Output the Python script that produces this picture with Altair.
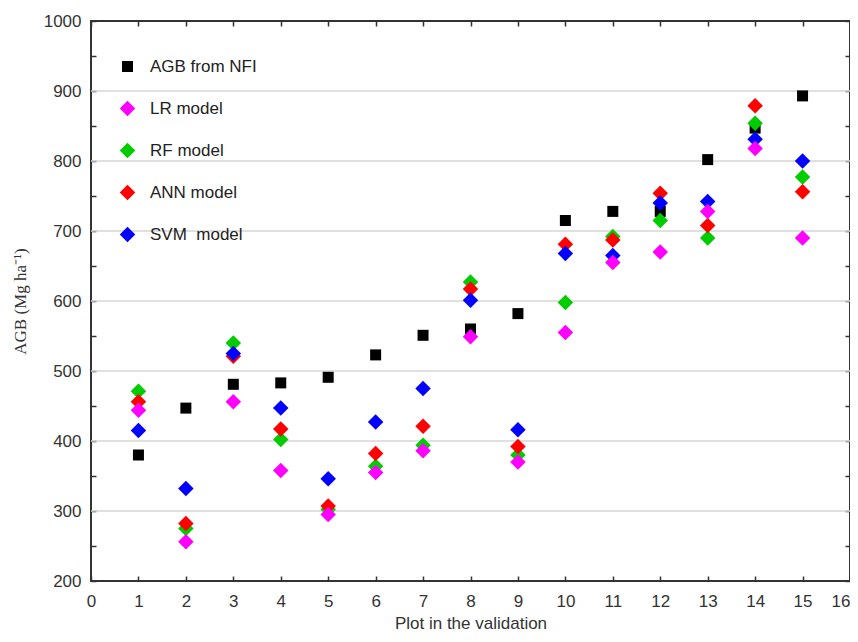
import altair as alt
import pandas as pd

plots = list(range(1, 16))
agb_nfi = [380, 447, 481, 483, 491, 523, 551, 560, 582, 715, 728, 728, 802, 847, 893]
lr_model = [444, 256, 456, 358, 295, 355, 386, 549, 370, 555, 655, 670, 728, 818, 690]
rf_model = [471, 275, 540, 402, 302, 364, 394, 627, 380, 598, 692, 715, 690, 854, 777]
ann_model = [456, 282, 521, 417, 307, 382, 421, 617, 392, 681, 687, 754, 708, 879, 756]
svm_model = [415, 332, 525, 447, 346, 427, 475, 601, 416, 668, 665, 740, 742, 831, 800]

legend_order = ["AGB from NFI", "LR model", "RF model", "ANN model", "SVM\u00a0 model"]
series_colors = ["#000000", "#ff00ff", "#00cc00", "#ff0000", "#0000ff"]
series_shapes = ["square", "diamond", "diamond", "diamond", "diamond"]
series_sizes = [121, 240, 240, 240, 240]

grid_y = [300, 400, 500, 600, 700, 800, 900]
y_ticks = list(range(200, 1001, 50))
x_ticks = list(range(0, 17))

series_values = {
    "AGB from NFI": agb_nfi,
    "RF model": rf_model,
    "ANN model": ann_model,
    "SVM\u00a0 model": svm_model,
    "LR model": lr_model,
}
rows = []
k = 0
for name, vals in series_values.items():
    for p, v in zip(plots, vals):
        rows.append({"plot": p, "agb": v, "series": name, "ord": k})
        k += 1
df = pd.DataFrame(rows)
grid_df = pd.DataFrame({"g": grid_y})

FONT = "Liberation Sans"
xscale = alt.Scale(domain=[0, 16], nice=False, zero=False)
yscale = alt.Scale(domain=[200, 1000], nice=False, zero=False)

legend = alt.Legend(
    orient="none", legendX=28, legendY=37, title=None,
    labelFontSize=17, labelFont=FONT, labelColor="#222",
    rowPadding=24, padding=0, labelOffset=14, symbolStrokeWidth=0,
)

grid = alt.Chart(grid_df).mark_rule(color="#d6d6d6", strokeWidth=1.5).encode(
    y=alt.Y("g:Q", scale=yscale, axis=alt.Axis(
        orient="left", values=y_ticks, format="d",
        labelExpr="datum.value % 100 == 0 ? datum.label : ''",
        tickSize=5, offset=-5, domain=False, grid=False,
        labelFontSize=17, labelPadding=10,
        title="AGB (Mg ha\u207b\u00b9)", titleFont="Liberation Serif",
        titleFontSize=17, titleFontWeight="normal", titlePadding=14,
    ))
)

points = alt.Chart(df).mark_point(filled=True, opacity=1, strokeWidth=0).encode(
    x=alt.X("plot:Q", scale=xscale, axis=alt.Axis(
        orient="bottom", values=x_ticks, format="d", tickSize=5, offset=-5,
        domain=False, grid=False, labelFontSize=17, labelPadding=12, labelFlush=False,
        labelAlign=alt.ExprRef(expr="datum.value == 16 ? 'right' : 'center'"),
        title="Plot in the validation", titleFontSize=17, titleFontWeight="normal",
        titlePadding=6,
    )),
    y=alt.Y("agb:Q", scale=yscale, axis=alt.Axis(
        orient="right", values=y_ticks, labels=False, tickSize=5, offset=-5,
        domain=False, grid=False, title=None,
    )),
    color=alt.Color("series:N", scale=alt.Scale(domain=legend_order, range=series_colors), legend=legend),
    shape=alt.Shape("series:N", scale=alt.Scale(domain=legend_order, range=series_shapes), legend=legend),
    size=alt.Size("series:N", scale=alt.Scale(type="ordinal", domain=legend_order, range=series_sizes), legend=legend),
    order=alt.Order("ord:Q"),
)

top_axis = alt.Chart(df).mark_point(opacity=0).encode(
    x=alt.X("plot:Q", scale=xscale, axis=alt.Axis(
        orient="top", values=x_ticks, labels=False, tickSize=5, offset=-5,
        domain=False, grid=False, title=None,
    )),
    y=alt.Y("agb:Q", scale=yscale, axis=None),
)

chart = alt.layer(grid, points, top_axis).resolve_axis(
    x="independent", y="independent"
).properties(
    width=759, height=560,
    autosize=alt.AutoSizeParams(type="none"),
    padding={"left": 83, "top": 13, "right": 0, "bottom": 53},
).configure_view(
    stroke="#333333", strokeWidth=2
).configure_axis(
    labelFont=FONT, titleFont=FONT, labelColor="#333333", titleColor="#333333",
    tickColor="#333333", tickWidth=1.5,
)

chart.save("out.html", embed_options={"renderer": "svg", "actions": False})
